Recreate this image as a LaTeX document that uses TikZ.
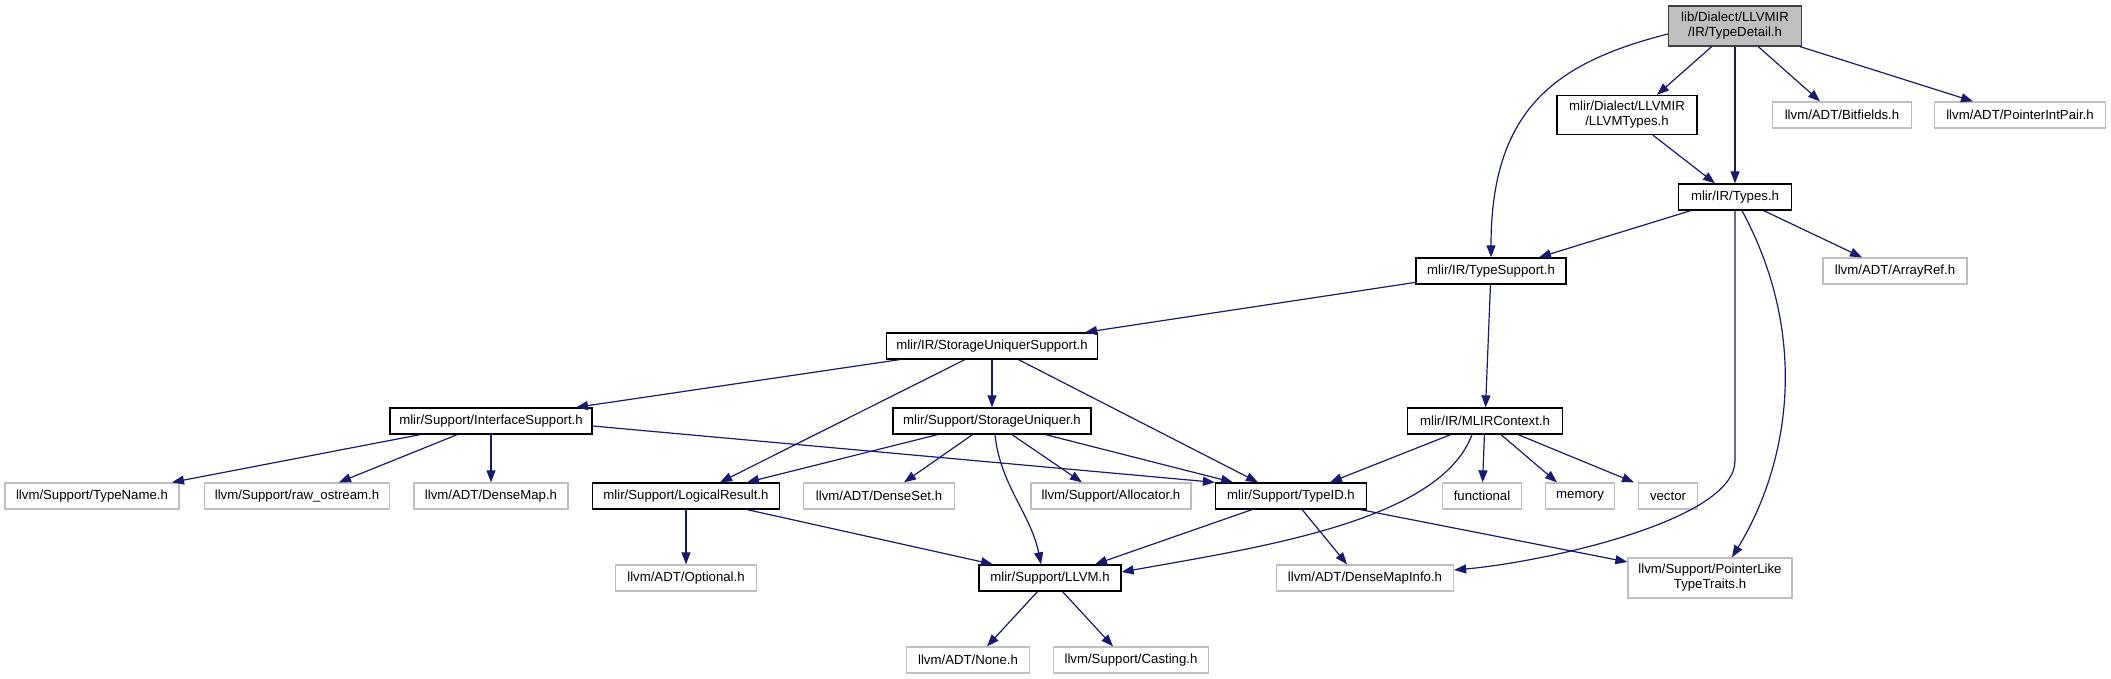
\documentclass[tikz,border=0pt]{standalone}
\usepackage{fontspec}
\setmainfont{Liberation Sans}
\usepackage{tikz}
\usetikzlibrary{arrows.meta}
\usepackage{xcolor}
\definecolor{edgeblue}{HTML}{191970}
\definecolor{extgray}{HTML}{BFBFBF}
\definecolor{rootdraw}{HTML}{404040}

\begin{document}
\begin{tikzpicture}[x=1pt, y=-1pt,
    docbox/.style={draw=black, line width=1.3pt, fill=white, align=center, inner sep=2pt, font=\fontsize{13.2}{15}\selectfont, minimum height=26},
    extbox/.style={draw=extgray, line width=1.3pt, fill=white, align=center, inner sep=2pt, font=\fontsize{13.2}{15}\selectfont, minimum height=26},
    rootbox/.style={draw=rootdraw, line width=1.3pt, fill=extgray, align=center, inner sep=2pt, font=\fontsize{13.2}{15}\selectfont, minimum height=40},
    dep/.style={-{Triangle[length=12pt,width=9pt]}, draw=edgeblue, line width=1.2pt}
  ]
    \useasboundingbox (0,0) rectangle (2111,679);

    \node[rootbox, minimum width=133] (detail) at (1735,26) {lib/Dialect/LLVMIR\\/IR/TypeDetail.h};
    \node[docbox, minimum width=140, minimum height=39] (llvmtypes) at (1627,115) {mlir/Dialect/LLVMIR\\/LLVMTypes.h};
    \node[extbox, minimum width=139] (bitfields) at (1842,115) {llvm/ADT/Bitfields.h};
    \node[extbox, minimum width=171] (ptrintpair) at (2020,115) {llvm/ADT/PointerIntPair.h};
    \node[docbox, minimum width=113] (types) at (1735,197) {mlir/IR/Types.h};
    \node[docbox, minimum width=150] (typesupport) at (1491,271) {mlir/IR/TypeSupport.h};
    \node[extbox, minimum width=144] (arrayref) at (1895,271) {llvm/ADT/ArrayRef.h};
    \node[docbox, minimum width=211] (susupport) at (992,346) {mlir/IR/StorageUniquerSupport.h};
    \node[docbox, minimum width=202] (ifsupport) at (491,421) {mlir/Support/InterfaceSupport.h};
    \node[docbox, minimum width=198] (uniquer) at (992,421) {mlir/Support/StorageUniquer.h};
    \node[docbox, minimum width=155] (mlircontext) at (1485,421) {mlir/IR/MLIRContext.h};

    \node[extbox, minimum width=174] (typename) at (92,496) {llvm/Support/TypeName.h};
    \node[extbox, minimum width=185] (rawostream) at (297,496) {llvm/Support/raw\_ostream.h};
    \node[extbox, minimum width=154] (densemap) at (491,496) {llvm/ADT/DenseMap.h};
    \node[docbox, minimum width=187] (logicalresult) at (686,496) {mlir/Support/LogicalResult.h};
    \node[extbox, minimum width=151] (denseset) at (879,496) {llvm/ADT/DenseSet.h};
    \node[extbox, minimum width=160] (allocator) at (1111,496) {llvm/Support/Allocator.h};
    \node[docbox, minimum width=151] (typeid) at (1291,496) {mlir/Support/TypeID.h};
    \node[extbox, minimum width=79] (functional) at (1482,496) {functional};
    \node[extbox, minimum width=69] (memory) at (1580,496) {memory};
    \node[extbox, minimum width=59] (vector) at (1668,496) {vector};

    \node[extbox, minimum width=141] (optional) at (686,578) {llvm/ADT/Optional.h};
    \node[docbox, minimum width=142] (llvm) at (1050,578) {mlir/Support/LLVM.h};
    \node[extbox, minimum width=177] (densemapinfo) at (1365,578) {llvm/ADT/DenseMapInfo.h};
    \node[extbox, minimum width=164, minimum height=40] (ptrlike) at (1710,578) {llvm/Support/PointerLike\\TypeTraits.h};
    \node[extbox, minimum width=123] (none) at (968,660) {llvm/ADT/None.h};
    \node[extbox, minimum width=155] (casting) at (1131,660) {llvm/Support/Casting.h};

    \draw[dep] ([yshift=-8]detail.west) .. controls +(-110,28) and +(0,-150) .. (typesupport.north);
    \draw[dep] (detail) -- ([xshift=30]llvmtypes.north);
    \draw[dep] (detail) -- (types);
    \draw[dep] (detail) -- ([xshift=-22]bitfields.north);
    \draw[dep] (detail) -- ([xshift=-47]ptrintpair.north);
    \draw[dep] (llvmtypes) -- ([xshift=-20]types.north);
    \draw[dep] (types) -- ([xshift=48]typesupport.north);
    \draw[dep] (types) -- ([xshift=-33]arrayref.north);
    \draw[dep] (types.south) -- ++(0,250) .. controls +(0,60) and +(90,-8) .. ([yshift=8]densemapinfo.east);
    \draw[dep] ([xshift=7]types.south) .. controls +(70,130) and +(55,-90) .. ([xshift=22]ptrlike.north);
    \draw[dep] (typesupport) -- ([xshift=93]susupport.north);
    \draw[dep] (typesupport) -- (mlircontext);
    \draw[dep] (susupport) -- ([xshift=85]ifsupport.north);
    \draw[dep] (susupport) -- (uniquer);
    \draw[dep] (susupport) -- ([xshift=34]logicalresult.north);
    \draw[dep] (susupport) -- ([xshift=-33]typeid.north);
    \draw[dep] (ifsupport) -- ([xshift=80]typename.north);
    \draw[dep] (ifsupport) -- ([xshift=42]rawostream.north);
    \draw[dep] (ifsupport) -- (densemap);
    \draw[dep] ([yshift=-5]ifsupport.east) -- (typeid.north west);
    \draw[dep] (uniquer) -- ([xshift=61]logicalresult.north);
    \draw[dep] (uniquer) -- ([xshift=25]denseset.north);
    \draw[dep] ([xshift=3]uniquer.south) .. controls +(5,50) and +(-10,-50) .. ([xshift=-9]llvm.north);
    \draw[dep] (uniquer) -- ([xshift=-29]allocator.north);
    \draw[dep] (uniquer) -- ([xshift=-58]typeid.north);
    \draw[dep] (mlircontext) -- ([xshift=39]typeid.north);
    \draw[dep] ([xshift=-13]mlircontext.south) .. controls +(-32,86) and +(140,-25) .. ([yshift=6]llvm.east);
    \draw[dep] (mlircontext) -- (functional);
    \draw[dep] (mlircontext) -- ([xshift=-23]memory.north);
    \draw[dep] (mlircontext) -- ([xshift=-34]vector.north);
    \draw[dep] (logicalresult) -- (optional);
    \draw[dep] (logicalresult) -- ([xshift=-57]llvm.north);
    \draw[dep] (typeid) -- ([xshift=45]llvm.north);
    \draw[dep] (typeid) -- ([xshift=-18]densemapinfo.north);
    \draw[dep] (typeid) -- ([yshift=16]ptrlike.west);
    \draw[dep] (llvm) -- ([xshift=19]none.north);
    \draw[dep] (llvm) -- ([xshift=-18]casting.north);
  \end{tikzpicture}
\end{document}
